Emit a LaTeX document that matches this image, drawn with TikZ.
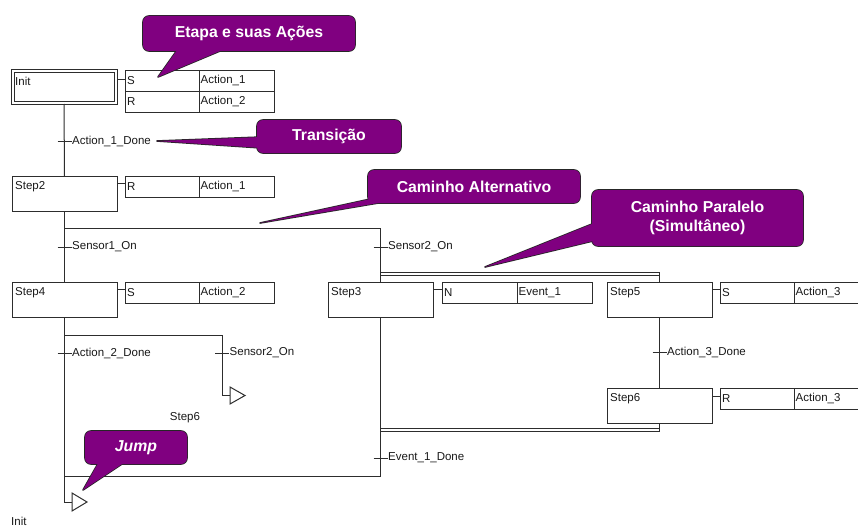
\documentclass[tikz,border=0pt]{standalone}
\usepackage{fontspec}
\setmainfont{Liberation Sans}
\usetikzlibrary{calc}
\definecolor{cpurple}{RGB}{128,0,128}
\definecolor{lncol}{RGB}{45,45,45}
\newcommand\stepnode[4]{%
  \node[stepbox] (#1) at (#2,#3) {};
  \node[txt,anchor=west] (#1t) at ([shift={(3,11)}]#1.north west) {#4};}
\newcommand\actnode[7]{%
  \node[actbox, minimum width=#4pt] (#1) at (#2,#3) {};
  \draw[ln] ([xshift=#5pt]#1.north west) -- ([xshift=#5pt]#1.south west);
  \node[txt,anchor=west] (#1q) at ([xshift=2pt]#1.west) {#6};
  \node[txt,anchor=west] (#1a) at ([xshift=#5pt+1.5pt]#1.west) {#7};}
\newcommand\transtick[4]{%
  \coordinate (#1) at (#2,#3);
  \draw[ln] ([xshift=-7pt]#1) -- ([xshift=7pt]#1);
  \node[txt,anchor=west] (#1t) at ([xshift=7.5pt]#1) {#4};}
\newcommand\callout[7]{%
  \draw[cline] (#4) -- (#5) -- (#6) -- cycle;
  \draw[cline, rounded corners=6pt] (#2) rectangle (#3);
  \fill[cpurple] (#4) -- (#5) -- (#6) -- cycle;
  \fill[cpurple, rounded corners=6pt] (#2) rectangle (#3);
  \node[ctext] (#1) at ($(#2)!0.5!(#3)$) {#7};}
\begin{document}
\begin{tikzpicture}[x=1pt,y=-1pt,
  ln/.style={draw=lncol, line width=1pt},
  stepbox/.style={draw=lncol, line width=1pt, minimum width=105pt, minimum height=35pt, inner sep=0pt, outer sep=0pt, anchor=north west},
  actbox/.style={draw=lncol, line width=1pt, minimum height=21pt, inner sep=0pt, outer sep=0pt, anchor=north west},
  txt/.style={font=\fontsize{11.5}{13}\selectfont, text=black!90, inner sep=0pt},
  cline/.style={draw=black!85, line width=1.6pt, line join=round},
  ctext/.style={font=\bfseries\fontsize{15.8}{19}\selectfont, text=white, align=center, inner sep=0pt}]
\clip (0,0) rectangle (858,527);
\useasboundingbox (0,0) rectangle (858,527);
\fill[white] (0,0) rectangle (858,527);

% steps
\node[stepbox, minimum width=106pt, minimum height=35pt] (init) at (11,69) {};
\draw[ln] ([shift={(3,3)}]init.north west) rectangle ([shift={(-3,-3)}]init.south east);
\node[txt,anchor=west] (initt) at ([shift={(4,12)}]init.north west) {Init};
\stepnode{s2}{12}{176}{Step2}
\stepnode{s4}{12}{282}{Step4}
\stepnode{s3}{328}{282}{Step3}
\stepnode{s5}{607}{282}{Step5}
\stepnode{s6}{607}{388}{Step6}

% actions
\actnode{a1}{125}{70}{149}{74}{S}{Action\_1}
\actnode{a2}{125}{91}{149}{74}{R}{Action\_2}
\actnode{a3}{125}{176}{149}{74}{R}{Action\_1}
\actnode{a4}{125}{282}{149}{74}{S}{Action\_2}
\actnode{a5}{442}{282}{150}{75}{N}{Event\_1}
\actnode{a6}{720}{282}{150}{74}{S}{Action\_3}
\actnode{a7}{720}{388}{150}{74}{R}{Action\_3}

% step-action links
\draw[ln] (init.north east |- 0,79) -- (a1.north west |- 0,79);
\draw[ln] (s2.north east |- 0,183) -- (a3.north west |- 0,183);
\draw[ln] (s4.north east |- 0,289) -- (a4.north west |- 0,289);
\draw[ln] (s3.north east |- 0,289) -- (a5.north west |- 0,289);
\draw[ln] (s5.north east |- 0,289) -- (a6.north west |- 0,289);
\draw[ln] (s6.north east |- 0,396) -- (a7.north west |- 0,396);

% main flow
\draw[ln] (init.south) -- (s2.north);
\draw[ln] (s2.south) -- (s4.north);
\draw[ln] (s2.south |- 0,228) -- (s3.north |- 0,228) -- (s3.north);
\draw[ln] (s3.north |- 0,272.5) -- (s5.north |- 0,272.5) -- (s5.north);
\draw[ln] (s3.north |- 0,275.5) -- (s5.north |- 0,275.5);
\draw[ln] (s5.south) -- (s6.north);
\draw[ln] (s6.south) -- (s6.south |- 0,431);
\draw[ln] (s3.south |- 0,428) -- (s6.south |- 0,428);
\draw[ln] (s3.south |- 0,431) -- (s6.south |- 0,431);
\draw[ln] (s3.south) -- (s3.south |- 0,476) -- (s4.south |- 0,476);

% jumps
\coordinate (j1) at (72,502);
\coordinate (j2) at (230,395.5);
\draw[ln] (s4.south) -- (s4.south |- j1) -- (j1);
\draw[ln] (s4.south |- 0,335) -- (222,335) -- (222,395.5) -- (j2);
\draw[ln, fill=white] (j1) -- ++(0,-9) -- ++(15,9) -- ++(-15,9) -- cycle;
\draw[ln, fill=white] (j2) -- ++(0,-8.5) -- ++(15,8.5) -- ++(-15,8.5) -- cycle;
\node[txt] (j2t) at (185,418) {Step6};
\node[txt,anchor=west] (j1t) at (11,521) {Init};

% transitions
\transtick{t1}{64.5}{141}{Action\_1\_Done}
\transtick{t2}{64.5}{247}{Sensor1\_On}
\transtick{t3}{380.5}{247}{Sensor2\_On}
\transtick{t4}{64.5}{353}{Action\_2\_Done}
\transtick{t5}{222}{353}{Sensor2\_On}
\transtick{t6}{659.5}{352}{Action\_3\_Done}
\transtick{t7}{380.5}{458}{Event\_1\_Done}

% callouts
\callout{c1}{143,16}{355,51}{158,77}{180,46}{232,46}{Etapa e suas Ações}
\callout{c2}{257,120}{401,153}{157,141}{262,137}{262,148}{Transição}
\callout{c3}{368,170}{580,203}{260,223}{375,198}{408,198}{Caminho Alternativo}
\callout{c4}{592,190}{803,246}{485,267}{597,222}{597,240}{Caminho Paralelo\\(Simultâneo)}
\callout{c5}{85,431}{187,464}{83,490}{100,460}{128,460}{\itshape Jump}
\end{tikzpicture}
\end{document}
